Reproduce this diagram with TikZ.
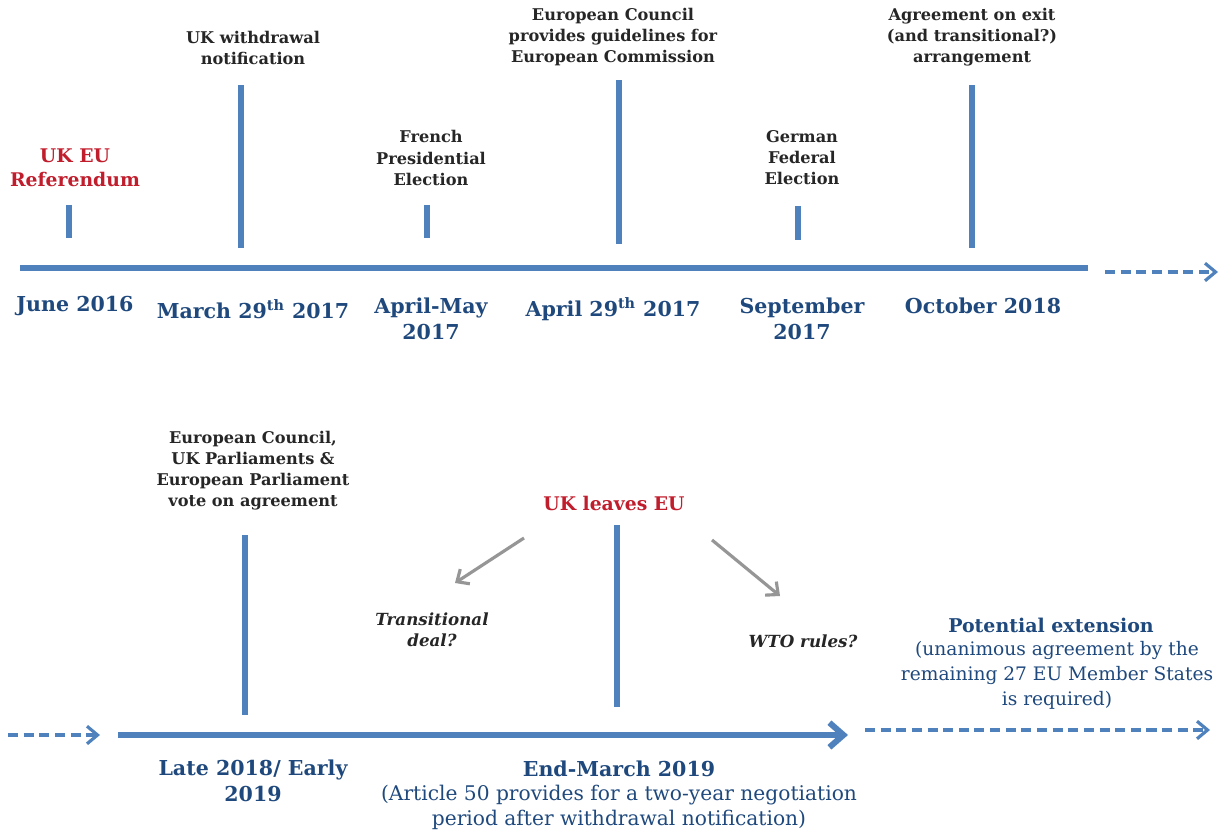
\documentclass[tikz,border=0pt]{standalone}
\usepackage{fontspec}
\setmainfont{DejaVu Serif}
\usetikzlibrary{arrows.meta}
\definecolor{lineblue}{RGB}{79,129,189}
\definecolor{dateblue}{RGB}{31,73,125}
\definecolor{leavered}{RGB}{192,30,45}
\definecolor{arrowgray}{RGB}{150,150,150}
\tikzset{
  event/.style={font=\bfseries\fontsize{9.2}{12}\selectfont, text=black!85, align=center, inner sep=0pt},
  redevent/.style={font=\bfseries\fontsize{10.7}{13.6}\selectfont, text=leavered, align=center, inner sep=0pt},
  datelabel/.style={font=\bfseries\fontsize{11.7}{14.7}\selectfont, text=dateblue, align=center, inner sep=0pt},
  note/.style={font=\fontsize{11.5}{14.2}\selectfont, text=dateblue, align=center, inner sep=0pt},
  option/.style={font=\bfseries\itshape\fontsize{9.5}{12}\selectfont, text=black!85, align=center, inner sep=0pt},
  timeline/.style={lineblue, line width=3.4pt},
  tick/.style={lineblue, line width=3.6pt},
  later/.style={lineblue, line width=1.8pt, dash pattern=on 5.7pt off 3.2pt, -{Straight Barb[length=6pt,width=10pt]}},
  outcome/.style={arrowgray, line width=1.8pt, -{Straight Barb[length=5.5pt,width=10pt]}}
}
\begin{document}
\begin{tikzpicture}[x=0.02cm, y=-0.02cm]
  \useasboundingbox (0,0) rectangle (1222,834);
  % top timeline
  \draw[timeline] (20,268) -- (1088,268);
  \draw[later] (1105,272) -- (1218,272);
  \draw[tick] (69,205) -- (69,238);
  \draw[tick] (241,85) -- (241,248);
  \draw[tick] (427,205) -- (427,238);
  \draw[tick] (619,80) -- (619,244);
  \draw[tick] (798,206) -- (798,240);
  \draw[tick] (972,85) -- (972,248);
  \node[redevent] (referendum) at (75,168) {UK EU\\Referendum};
  \node[event] (notification) at (253,48) {UK withdrawal\\notification};
  \node[event] (french) at (431,158) {French\\Presidential\\Election};
  \node[event] (guidelines) at (613,37) {European Council\\provides guidelines for\\European Commission};
  \node[event] (german) at (802,158) {German\\Federal\\Election};
  \node[event] (agreement) at (972,37) {Agreement on exit\\(and transitional?)\\arrangement};
  \node[datelabel] (june) at (75,306) {June 2016};
  \node[datelabel] (march) at (253,309) {March 29\textsuperscript{th} 2017};
  \node[datelabel] (aprilmay) at (431,319) {April-May\\2017};
  \node[datelabel] (april) at (613,309) {April 29\textsuperscript{th} 2017};
  \node[datelabel] (september) at (802,319) {September\\2017};
  \node[datelabel] (october) at (983,306) {October 2018};
  % bottom timeline
  \draw[later] (8,735) -- (100,735);
  \draw[timeline, -{Straight Barb[length=8pt,width=14pt]}] (118,735) -- (848,735);
  \draw[later] (865,730) -- (1210,730);
  \draw[tick] (245,535) -- (245,715);
  \draw[tick] (617,525) -- (617,707);
  \node[event] (vote) at (253,471) {European Council,\\UK Parliaments \&\\European Parliament\\vote on agreement};
  \node[redevent] (leaves) at (614,503) {UK leaves EU};
  \node[option] (transitional) at (432,630) {Transitional\\deal?};
  \node[option] (wto) at (803,641) {WTO rules?};
  \coordinate (leftstart) at (524,538);
  \coordinate (leftend) at (455,583);
  \coordinate (rightstart) at (712,540);
  \coordinate (rightend) at (780,596);
  \draw[outcome] (leftstart) -- (leftend);
  \draw[outcome] (rightstart) -- (rightend);
  \node[datelabel, font=\bfseries\fontsize{10.8}{13}\selectfont] (extension) at (1051,625) {Potential extension};
  \node[note, font=\fontsize{10.6}{14.2}\selectfont] (unanimous) at (1057,675) {(unanimous agreement by the\\remaining 27 EU Member States\\is required)};
  \node[datelabel] (late) at (253,781) {Late 2018/ Early\\2019};
  \node[datelabel] (endmarch) at (619,769) {End-March 2019};
  \node[note] (article) at (619,807) {(Article 50 provides for a two-year negotiation\\period after withdrawal notification)};
\end{tikzpicture}
\end{document}
